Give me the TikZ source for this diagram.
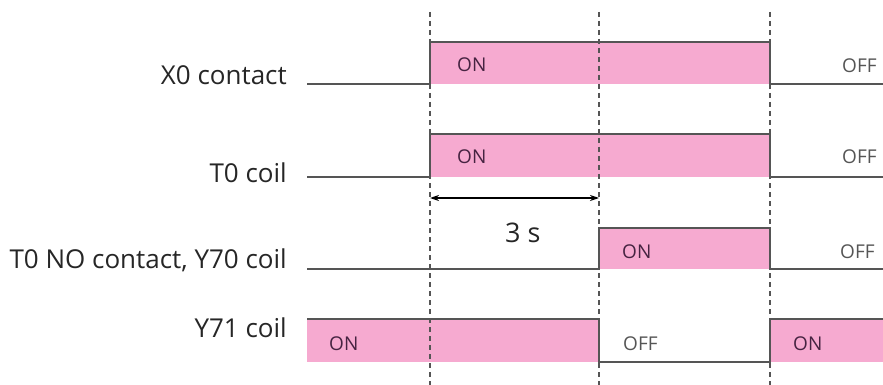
\documentclass[tikz,border=0pt]{standalone}
\usepackage{fontspec}
\setmainfont{Open Sans}
\usetikzlibrary{arrows.meta}
\definecolor{pinkfill}{RGB}{246,170,208}
\definecolor{sigline}{RGB}{85,85,85}
\definecolor{ontext}{RGB}{70,35,65}
\definecolor{offtext}{RGB}{85,85,85}
\begin{document}
\begin{tikzpicture}[x=1pt,y=-1pt,
  sig/.style={draw=sigline,line width=1.8pt,line join=miter},
  onbox/.style={fill=pinkfill,draw=none},
  guide/.style={draw=sigline,line width=1.2pt,dash pattern=on 5pt off 4pt},
  lbl/.style={anchor=base east,inner sep=0pt,font=\fontsize{26}{30}\selectfont,text=black!85},
  ontxt/.style={anchor=base west,inner sep=0pt,font=\fontsize{19}{22}\selectfont,text=ontext},
  offtxt/.style={anchor=base west,inner sep=0pt,font=\fontsize{19}{22}\selectfont,text=offtext},
  dim/.style={draw=black,line width=1.3pt,{Stealth[length=9pt,width=6pt]}-{Stealth[length=9pt,width=6pt]}}]
\useasboundingbox (0,0) rectangle (883,385);
% pink fills
\fill[onbox] (430,42) rectangle (770,84);
\fill[onbox] (430,134) rectangle (770,177);
\fill[onbox] (599,228) rectangle (770,269);
\fill[onbox] (307,319) rectangle (599,362);
\fill[onbox] (770,319) rectangle (883,362);
% dashed guides
\coordinate (g1t) at (430,12); \coordinate (g1b) at (430,385);
\coordinate (g2t) at (599,12); \coordinate (g2b) at (599,385);
\coordinate (g3t) at (770,12); \coordinate (g3b) at (770,385);
\draw[guide] (g1t) -- (g1b);
\draw[guide] (g2t) -- (g2b);
\draw[guide] (g3t) -- (g3b);
% signals
\draw[sig] (307,84) -- (430,84) -- (430,42) -- (770,42) -- (770,84) -- (883,84);
\draw[sig] (307,177) -- (430,177) -- (430,134) -- (770,134) -- (770,177) -- (883,177);
\draw[sig] (307,269) -- (599,269) -- (599,228) -- (770,228) -- (770,269) -- (883,269);
\draw[sig] (307,319) -- (599,319) -- (599,362) -- (770,362) -- (770,319) -- (883,319);
% dimension
\coordinate (d1) at (430,198);
\coordinate (d2) at (599,198);
\draw[dim] (d1) -- (d2);
\node[anchor=base west,inner sep=0pt,font=\fontsize{27}{30}\selectfont,text=black!85] (t3s) at (505,242) {3 s};
% labels
\node[lbl] (lx0) at (287,85) {X0 contact};
\node[lbl] (lt0) at (287,182) {T0 coil};
\node[lbl] (ly70) at (287,268) {T0 NO contact, Y70 coil};
\node[lbl] (ly71) at (287,337) {Y71 coil};
% state texts
\node[ontxt] (on1) at (457,72) {ON};
\node[offtxt] (off1) at (842,73) {OFF};
\node[ontxt] (on2) at (457,164) {ON};
\node[offtxt] (off2) at (842,164) {OFF};
\node[ontxt] (on3) at (622,258) {ON};
\node[offtxt] (off3) at (840,258) {OFF};
\node[ontxt] (on4a) at (329,350) {ON};
\node[offtxt] (off4) at (623,350) {OFF};
\node[ontxt] (on4b) at (793,350) {ON};
\end{tikzpicture}
\end{document}
